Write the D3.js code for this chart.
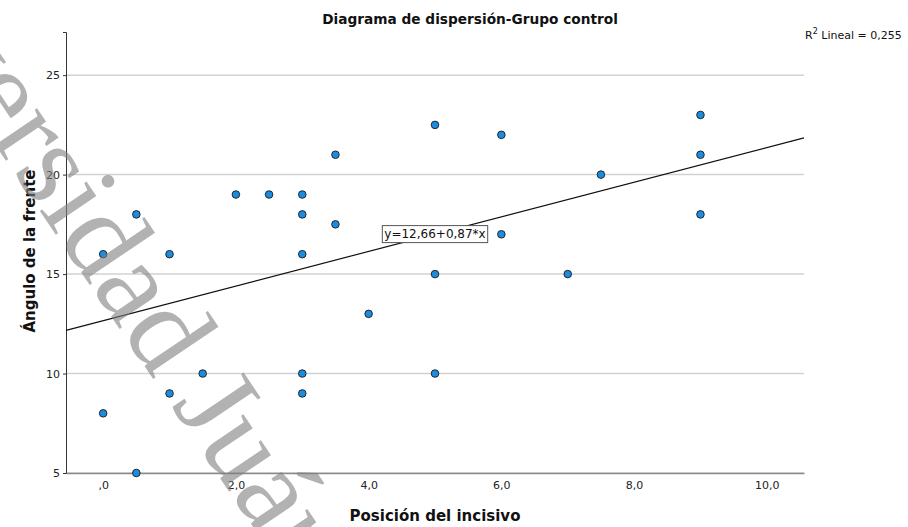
<!DOCTYPE html>
<html>
<head>
<meta charset="utf-8">
<script src="https://cdn.jsdelivr.net/npm/d3@7"></script>
<style>
  body { margin: 0; background: #fff; }
  svg { display: block; }
</style>
</head>
<body>
<div class="chart"></div>
<script>
// datos
var posicion = [0, 0, 0.5, 0.5, 1, 1, 1.5, 2, 2.5, 3, 3, 3, 3, 3, 3.5, 3.5, 4, 5, 5, 5, 6, 6, 7, 7.5, 9, 9, 9];
var angulo   = [16, 8, 18, 5, 16, 9, 10, 19, 19, 19, 18, 16, 10, 9, 21, 17.5, 13, 22.5, 15, 10, 22, 17, 15, 20, 23, 21, 18];
var xTicks = [0, 2, 4, 6, 8, 10];
var yTicks = [5, 10, 15, 20, 25];
var intercepto = 12.66;
var pendiente = 0.87;
var r2 = "0,255";

var width = 908, height = 527;
var margin = {top: 32, right: 104, bottom: 54, left: 66};

var svg = d3.select("div.chart")
  .append("svg")
  .attr("width", width)
  .attr("height", height);

var x = d3.scaleLinear()
  .domain([-0.56, 10.56])
  .range([margin.left, width - margin.right]);

var y = d3.scaleLinear()
  .domain([5, 27.17])
  .range([height - margin.bottom, margin.top]);

// formato estilo SPSS: ",0" "2,0"
function fmtX(d) {
  var s = d3.format(".1f")(d).replace(".", ",");
  return s.charAt(0) == "0" ? s.slice(1) : s;
}

var font = "DejaVu Sans, Verdana, sans-serif";

// lineas de cuadricula
svg.append("g")
  .selectAll("line")
  .data(yTicks)
  .enter().append("line")
  .attr("x1", x.range()[0])
  .attr("x2", x.range()[1])
  .attr("y1", d => y(d))
  .attr("y2", d => y(d))
  .style("stroke", "#d2d2d2")
  .style("stroke-width", 1.5);

// eje x
var xAxis = svg.append("g")
  .attr("transform", "translate(0," + (height - margin.bottom) + ")")
  .call(d3.axisBottom(x).tickValues(xTicks).tickFormat(fmtX).tickSize(0).tickPadding(8));
xAxis.select(".domain").style("stroke", "#8a8a8a").style("stroke-width", 1.3);
xAxis.selectAll("text").style("font-family", font).style("font-size", "11px").style("fill", "#222");

// eje y
var yAxis = svg.append("g")
  .attr("transform", "translate(" + margin.left + ",0)")
  .call(d3.axisLeft(y).tickValues(yTicks).tickSize(3).tickPadding(3));
yAxis.select(".domain").style("stroke", "#333").style("stroke-width", 1);
yAxis.selectAll(".tick line").style("stroke", "#333");
yAxis.selectAll("text").style("font-family", font).style("font-size", "11px").style("fill", "#222");

// linea de regresion
var xd = x.domain();
svg.append("line")
  .attr("x1", x(xd[0]))
  .attr("y1", y(intercepto + pendiente * xd[0]))
  .attr("x2", x(xd[1]))
  .attr("y2", y(intercepto + pendiente * xd[1]))
  .style("stroke", "#111")
  .style("stroke-width", 1.2);

// etiqueta de la ecuacion
var xe = 5;
var eq = svg.append("g")
  .attr("transform", "translate(" + x(xe) + "," + y(intercepto + pendiente * xe) + ")");
var eqText = eq.append("text")
  .attr("text-anchor", "middle")
  .attr("dy", "0.35em")
  .style("font-family", font)
  .style("font-size", "12px")
  .style("fill", "#111")
  .text("y=12,66+0,87*x");
var bb = eqText.node().getBBox();
eq.insert("rect", "text")
  .attr("x", bb.x - 2)
  .attr("y", -8.5)
  .attr("width", bb.width + 4)
  .attr("height", 17)
  .style("fill", "#fff")
  .style("stroke", "#555")
  .style("stroke-width", 1);

// puntos
svg.append("g")
  .selectAll("circle")
  .data(posicion)
  .enter().append("circle")
  .attr("cx", d => x(d))
  .attr("cy", (d, i) => y(angulo[i]))
  .attr("r", 3.8)
  .style("fill", "#1c8ce0")
  .style("stroke", "#1a1a1a")
  .style("stroke-width", 0.9);

// titulos
svg.append("text")
  .attr("x", 470)
  .attr("y", 24)
  .attr("text-anchor", "middle")
  .style("font-family", font)
  .style("font-weight", "bold")
  .style("font-size", "13.7px")
  .style("fill", "#111")
  .text("Diagrama de dispersión-Grupo control");

svg.append("text")
  .attr("x", 435)
  .attr("y", 521)
  .attr("text-anchor", "middle")
  .style("font-family", font)
  .style("font-weight", "bold")
  .style("font-size", "15px")
  .style("fill", "#111")
  .text("Posición del incisivo");

svg.append("text")
  .attr("transform", "translate(35,251) rotate(-90)")
  .attr("text-anchor", "middle")
  .style("font-family", font)
  .style("font-weight", "bold")
  .style("font-size", "15px")
  .style("fill", "#111")
  .text("Ángulo de la frente");

var r2t = svg.append("text")
  .attr("x", 805)
  .attr("y", 39)
  .style("font-family", font)
  .style("font-size", "11px")
  .style("fill", "#111");
r2t.append("tspan").text("R");
r2t.append("tspan").attr("dy", -5).style("font-size", "8px").text("2");
r2t.append("tspan").attr("dy", 5).text(" Lineal = " + r2);

// marca de agua
svg.append("text")
  .attr("transform", "translate(-174,-106) rotate(56)")
  .style("font-family", "Liberation Serif, serif")
  .style("font-size", "120px")
  .style("fill", "#808080")
  .style("opacity", 0.6)
  .text("Universidad Juárez del Estado");
</script>
</body>
</html>
